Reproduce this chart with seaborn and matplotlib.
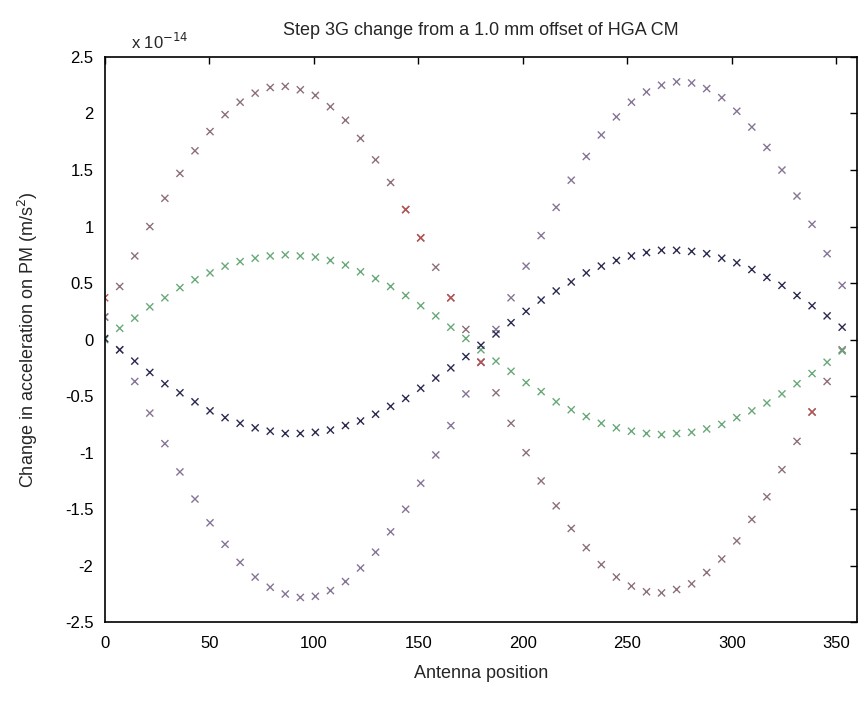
import numpy as np
import pandas as pd
import matplotlib
matplotlib.use('Agg')
import matplotlib.pyplot as plt
from matplotlib.ticker import FormatStrFormatter
import seaborn as sns

# antenna angle (deg)
angles = [0, 7.2, 14.4, 21.6, 28.8, 36, 43.2, 50.4, 57.6, 64.8,
          72, 79.2, 86.4, 93.6, 100.8, 108, 115.2, 122.4, 129.6, 136.8,
          144, 151.2, 158.4, 165.6, 172.8, 180, 187.2, 194.4, 201.6, 208.8,
          216, 223.2, 230.4, 237.6, 244.8, 252, 259.2, 266.4, 273.6, 280.8,
          288, 295.2, 302.4, 309.6, 316.8, 324, 331.2, 338.4, 345.6, 352.8]

# values in units of 1e-14 m/s^2
curve_a = [0.20, 0.47, 0.74, 1.00, 1.25, 1.47, 1.67, 1.84, 1.99, 2.10,
           2.18, 2.23, 2.24, 2.21, 2.16, 2.06, 1.94, 1.78, 1.59, 1.39,
           1.15, 0.90, 0.64, 0.37, 0.09, -0.20, -0.47, -0.74, -1.00, -1.25,
           -1.47, -1.67, -1.84, -1.99, -2.10, -2.18, -2.23, -2.24, -2.21, -2.16,
           -2.06, -1.94, -1.78, -1.59, -1.39, -1.15, -0.90, -0.64, -0.37, -0.09]
curve_b = [0.20, -0.09, -0.37, -0.65, -0.92, -1.17, -1.41, -1.62, -1.81, -1.97,
           -2.10, -2.19, -2.25, -2.28, -2.27, -2.22, -2.14, -2.02, -1.88, -1.70,
           -1.50, -1.27, -1.02, -0.76, -0.48, -0.20, 0.09, 0.37, 0.65, 0.92,
           1.17, 1.41, 1.62, 1.81, 1.97, 2.10, 2.19, 2.25, 2.28, 2.27,
           2.22, 2.14, 2.02, 1.88, 1.70, 1.50, 1.27, 1.02, 0.76, 0.48]
curve_g = [0.00, 0.10, 0.19, 0.29, 0.37, 0.46, 0.53, 0.59, 0.65, 0.69,
           0.72, 0.74, 0.75, 0.74, 0.73, 0.70, 0.66, 0.60, 0.54, 0.47,
           0.39, 0.30, 0.21, 0.11, 0.01, -0.09, -0.19, -0.28, -0.38, -0.46,
           -0.55, -0.62, -0.68, -0.74, -0.78, -0.81, -0.83, -0.84, -0.83, -0.82,
           -0.79, -0.75, -0.69, -0.63, -0.56, -0.48, -0.39, -0.30, -0.20, -0.10]
curve_k = [0.01, -0.09, -0.19, -0.29, -0.39, -0.47, -0.55, -0.63, -0.69, -0.74,
           -0.78, -0.81, -0.83, -0.83, -0.82, -0.80, -0.76, -0.72, -0.66, -0.59,
           -0.52, -0.43, -0.34, -0.25, -0.15, -0.05, 0.05, 0.15, 0.25, 0.35,
           0.43, 0.51, 0.59, 0.65, 0.70, 0.74, 0.77, 0.79, 0.79, 0.78,
           0.76, 0.72, 0.68, 0.62, 0.55, 0.48, 0.39, 0.30, 0.21, 0.11]

# a few points that show up red
red_angles = [0, 144, 151.2, 165.6, 180, 338.4]
red_values = [0.37, 1.15, 0.90, 0.37, -0.20, -0.64]

frames = []
for name, vals in [('a', curve_a), ('b', curve_b), ('g', curve_g), ('k', curve_k)]:
    frames.append(pd.DataFrame({'angle': angles, 'accel': vals, 'series': name}))
frames.append(pd.DataFrame({'angle': red_angles, 'accel': red_values, 'series': 'r'}))
df = pd.concat(frames, ignore_index=True)

palette = {'a': '#8c7078', 'b': '#857494', 'g': '#68a878', 'k': '#2a2a50', 'r': '#b85050'}

sns.set_style('white')
plt.rcParams['font.family'] = ['Liberation Sans', 'DejaVu Sans']
plt.rcParams['axes.unicode_minus'] = False

fig = plt.figure(figsize=(8.65, 7.12), dpi=100)
ax = fig.add_axes([0.121, 0.126, 0.870, 0.794])

sns.scatterplot(data=df, x='angle', y='accel', hue='series', palette=palette,
                marker='x', s=26, linewidth=1.0, legend=False, ax=ax)

ax.set_xlim(0, 360)
ax.set_ylim(-2.5, 2.5)
ax.set_xticks([0, 50, 100, 150, 200, 250, 300, 350])
ax.set_yticks([-2.5, -2, -1.5, -1, -0.5, 0, 0.5, 1, 1.5, 2, 2.5])
ax.yaxis.set_major_formatter(FormatStrFormatter('%g'))
ax.tick_params(direction='in', top=True, right=True, length=5, width=1,
               labelsize=12, colors='black')
ax.tick_params(axis='x', pad=10)
ax.tick_params(axis='y', pad=8)
for sp in ax.spines.values():
    sp.set_color('black')
    sp.set_linewidth(1.2)

ax.set_xlabel('Antenna position', fontsize=13, labelpad=10)
ax.set_ylabel('Change in acceleration on PM (m/s$^2$)', fontsize=13, labelpad=18)
ax.set_title('Step 3G change from a 1.0 mm offset of HGA CM', fontsize=13, pad=16)
ax.text(0.035, 1.008, 'x 10$^{-14}$', transform=ax.transAxes, fontsize=12,
        ha='left', va='bottom')

fig.savefig('out.png', dpi=100)
